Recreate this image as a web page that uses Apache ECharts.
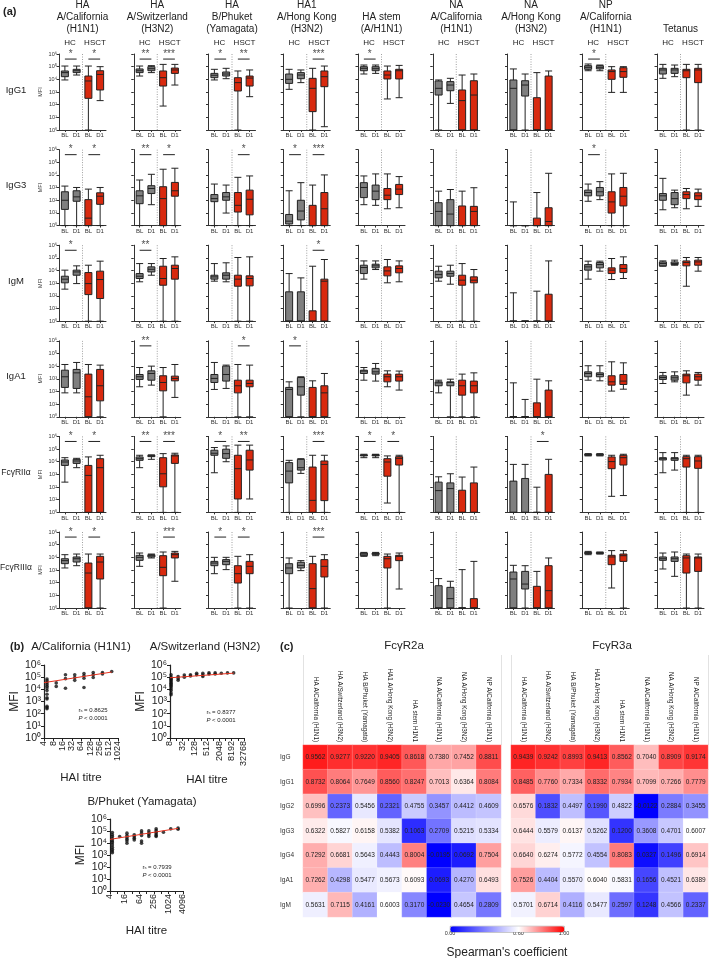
<!DOCTYPE html>
<html><head><meta charset="utf-8">
<script src="https://cdn.jsdelivr.net/npm/echarts@6/dist/echarts.min.js"></script>
<style>html,body{margin:0;padding:0;background:#fff}#c{width:709px;height:958px}</style>
</head><body><div id="c"></div>
<script>
// ---------------- DATA ----------------
// Panel (a): column headers, row labels, x categories
const antigenTitles = [
  ['HA','A/California','(H1N1)'], ['HA','A/Switzerland','(H3N2)'], ['HA','B/Phuket','(Yamagata)'],
  ['HA1','A/Hong Kong','(H3N2)'], ['HA stem','(A/H1N1)'], ['NA','A/California','(H1N1)'],
  ['NA','A/Hong Kong','(H3N2)'], ['NP','A/California','(H1N1)'], ['Tetanus']
];
const rowLabels = ['IgG1','IgG3','IgM','IgA1','FcγRIIα','FcγRIIIα'];
const groupLabels = ['HC','HSCT'];
const timeLabels = ['BL','D1','BL','D1'];
const yTickExp = [0,1,2,3,4,5,6];

// Box values: log10(MFI) as [min, Q1, median, Q3, max]; per antigen: HC BL, HC D1, HSCT BL, HSCT D1
const igg1Boxes = [
 [[3.95,4.21,4.53,4.66,5.05],[4.34,4.53,4.68,4.79,5.05],[0,2.5,3.87,4.26,5.05],[2.32,3.16,4.39,4.68,5.0]],
 [[4.26,4.53,4.68,4.82,5.05],[4.53,4.68,4.84,5.0,5.08],[1.89,3.47,4.13,4.66,5.18],[3.55,4.47,4.74,4.89,5.18]],
 [[3.95,4.13,4.32,4.47,4.79],[4.05,4.26,4.42,4.58,4.87],[0,3.08,3.74,4.13,4.66],[2.63,3.47,4.1,4.26,4.74]],
 [[3.21,3.68,4.0,4.42,4.79],[3.74,4.05,4.34,4.53,4.74],[0,1.45,3.29,4.08,4.87],[0.26,3.42,4.21,4.66,5.05]],
 [[4.42,4.68,4.87,5.0,5.13],[4.47,4.68,4.84,5.0,5.13],[2.45,4.03,4.34,4.66,5.05],[2.55,4.03,4.68,4.79,5.1]],
 [[0,2.76,3.29,3.87,3.95],[2.1,3.1,3.55,3.82,4.08],[0,0,2.32,3.16,4.34],[0,0,2.76,3.89,4.42]],
 [[0,0,3.29,3.95,4.82],[0,2.68,3.55,3.89,4.42],[0,0,0,2.55,4.53],[0,0,0,4.26,4.66]],
 [[4.68,4.79,4.95,5.08,5.21],[4.68,4.82,4.95,5.08,5.13],[2.97,4.0,4.61,4.74,5.0],[2.97,4.16,4.61,4.92,5.0]],
 [[4.08,4.42,4.74,4.87,5.18],[4.21,4.47,4.74,4.87,5.13],[0,4.13,4.68,4.79,5.18],[0,3.74,4.74,4.87,5.18]]
];
const igg3Boxes = [
 [[0,1.28,2.0,2.67,3.12],[0,1.92,2.27,2.75,3.01],[0,0,0.59,2.05,2.88],[0,1.68,2.32,2.59,3.01]],
 [[0,1.73,2.35,2.75,3.6],[1.65,2.53,2.93,3.15,4.05],[0,0,2.13,3.07,4.45],[0,2.32,2.75,3.41,4.53]],
 [[0,1.89,2.13,2.45,3.28],[0.99,2.0,2.27,2.61,3.2],[0,1.07,1.6,2.61,3.81],[0,0.85,2.08,2.8,3.92]],
 [[0,0.13,0.35,0.88,2.75],[0,0.45,1.15,2.0,3.39],[0,0,0,1.6,3.2],[0,0,1.33,2.61,4.0]],
 [[1.65,2.21,3.01,3.39,3.92],[1.6,2.05,2.72,3.2,4.08],[1.33,2.05,2.4,2.93,4.08],[1.41,2.45,2.88,3.25,3.87]],
 [[0,0,1.12,1.81,2.72],[0,0,0.91,2.05,2.85],[0,0,0,1.55,2.72],[0,0,1.12,1.52,2.99]],
 [[0,0,0,0,1.87],[0,0,0,0,0],[0,0,0,0.59,2.61],[0,0,0.32,1.41,4.13]],
 [[1.92,2.35,2.61,2.8,3.28],[2.05,2.35,2.67,3.01,3.47],[0,0.99,1.87,2.67,4.08],[0,1.55,2.32,3.01,4.13]],
 [[1.25,2.0,2.35,2.53,3.73],[1.41,1.65,2.13,2.61,2.8],[1.33,2.13,2.45,2.67,2.93],[1.52,2.05,2.35,2.59,2.88]]
];
const igmBoxes = [
 [[2.53,3.03,3.32,3.55,4.03],[2.97,3.63,3.89,4.03,4.37],[0,2.1,2.97,3.84,4.42],[0,1.79,3.29,3.95,4.74]],
 [[3.11,3.37,3.55,3.76,4.55],[3.63,3.89,4.1,4.29,4.55],[0,2.84,3.37,4.34,4.95],[0,3.32,4.16,4.42,5.08]],
 [[3.16,3.32,3.5,3.63,4.55],[3.11,3.32,3.63,3.82,4.61],[0,2.76,3.32,3.63,5.03],[0,2.79,3.37,3.58,5.08]],
 [[0,0,0,2.32,3.76],[0,0,0,2.32,3.42],[0,0,0,0.82,4.34],[0,0,3.16,3.32,4.87]],
 [[3.32,3.76,4.24,4.42,4.76],[4.08,4.21,4.37,4.5,4.76],[3.03,3.58,3.97,4.29,4.87],[3.11,3.82,4.16,4.37,4.76]],
 [[3.16,3.42,3.68,3.95,4.34],[2.92,3.55,3.76,3.95,4.42],[0,2.84,3.24,3.63,4.55],[0,3.03,3.24,3.5,4.08]],
 [[0,0,0,0,2.24],[0,0,0,0,0],[0,0,0,0,2.37],[0,0,0,2.13,4.76]],
 [[3.32,4.03,4.29,4.47,4.74],[3.95,4.21,4.47,4.63,4.74],[3.29,3.76,4.03,4.21,4.95],[3.37,3.84,4.16,4.47,5.08]],
 [[4.34,4.37,4.55,4.68,4.76],[4.42,4.47,4.55,4.68,4.82],[2.76,4.37,4.63,4.76,5.03],[3.95,4.42,4.68,4.82,5.03]]
];
const iga1Boxes = [
 [[1.89,2.32,3.16,3.68,4.13],[1.89,2.24,3.47,3.74,4.29],[0,0,1.58,3.37,4.13],[0,1.26,2.45,3.74,4.08]],
 [[2.37,2.95,3.16,3.34,3.89],[2.5,2.89,3.42,3.63,4.0],[0,2.05,2.71,3.24,3.89],[1.53,2.84,3.03,3.21,4.13]],
 [[2.16,2.71,3.03,3.34,4.29],[2.24,2.82,3.34,4.0,4.08],[0,1.89,2.45,2.89,4.13],[0,2.37,2.63,2.89,4.08]],
 [[0,0,2.16,2.32,2.76],[0,1.71,2.37,3.1,3.16],[0,0,0,2.32,2.84],[0,0,1.89,2.45,3.42]],
 [[2.89,3.42,3.61,3.68,3.89],[2.82,3.37,3.55,3.82,4.21],[2.37,2.76,3.16,3.37,3.63],[2.11,2.82,3.16,3.37,3.61]],
 [[1.89,2.45,2.68,2.76,2.89],[0,2.45,2.71,2.76,2.97],[0,1.71,2.45,2.89,3.37],[0,1.89,2.45,2.82,3.47]],
 [[0,0,0,0,2.68],[0,0,0,0,1.37],[0,0,0,1.1,2.97],[0,0,0,2.11,2.84]],
 [[2.89,3.16,3.42,3.55,4.03],[2.84,3.16,3.34,3.47,4.03],[2.03,2.5,2.76,3.24,4.34],[2.18,2.55,2.82,3.34,4.26]],
 [[2.63,2.95,3.1,3.24,3.5],[2.76,2.89,3.08,3.24,3.55],[1.71,2.68,3.24,3.37,3.63],[2.5,2.89,3.16,3.37,3.5]]
];
const fcr2aBoxes = [
 [[2.39,3.71,3.98,4.14,4.32],[3.53,3.87,4.06,4.19,4.27],[0,0,2.92,3.71,4.38],[0,0,3.53,4.24,4.51]],
 [[3.53,4.11,4.24,4.38,4.51],[4.19,4.4,4.46,4.51,4.54],[0,2.02,3.05,4.32,4.64],[0,3.87,4.46,4.54,4.67]],
 [[3.13,4.51,4.67,4.91,5.12],[4.0,4.27,4.64,4.99,5.25],[0,1.06,3.45,4.51,5.31],[1.06,3.34,4.14,4.91,5.31]],
 [[0,2.33,3.26,3.93,4.11],[3.08,3.34,3.53,4.19,4.24],[0,0,0.95,3.58,4.51],[0,0.93,3.79,4.06,4.51]],
 [[4.32,4.46,4.51,4.54,4.59],[4.32,4.46,4.51,4.56,4.59],[0.74,2.86,3.98,4.24,4.46],[0,3.74,4.27,4.4,4.51]],
 [[0,0,1.72,2.39,2.81],[0,0,1.88,2.33,3.05],[0,0,0,1.75,2.79],[0,0,0,2.33,3.58]],
 [[0,0,0,2.47,3.79],[0,0,0,2.68,3.79],[0,0,0,0,1.99],[0,0,0,3.0,4.19]],
 [[4.46,4.51,4.54,4.59,4.64],[4.46,4.51,4.54,4.59,4.64],[1.27,3.45,4.01,4.38,4.51],[1.33,3.74,4.32,4.51,4.59]],
 [[3.13,4.14,4.24,4.32,4.72],[3.34,4.11,4.24,4.32,4.72],[0,3.58,4.24,4.4,4.51],[0,3.48,4.06,4.4,4.51]]
];
const fcr3aBoxes = [
 [[3.16,3.5,3.74,3.89,4.21],[3.34,3.63,3.89,4.03,4.26],[0,0,2.76,3.55,4.26],[0,2.29,3.63,4.08,4.26]],
 [[3.29,3.76,4.0,4.16,4.34],[3.95,4.03,4.13,4.21,4.26],[0,2.55,3.21,4.13,4.42],[2.11,3.95,4.21,4.34,4.47]],
 [[2.71,3.34,3.55,3.68,4.0],[3.03,3.42,3.68,3.82,4.0],[0,1.97,2.71,3.34,4.08],[0,2.71,3.29,3.68,4.21]],
 [[0,2.71,3.16,3.5,3.95],[2.95,3.16,3.37,3.61,3.74],[0,0,1.53,3.5,4.08],[0,2.45,3.29,3.82,4.21]],
 [[4.08,4.13,4.26,4.34,4.39],[4.13,4.21,4.29,4.34,4.39],[0,3.16,3.89,4.08,4.26],[1.5,3.74,4.08,4.16,4.34]],
 [[0,0,0,1.76,2.32],[0,0,0.74,1.63,2.11],[0,0,0,0,3.03],[0,0,0,0.74,3.68]],
 [[0,0,2.29,2.84,3.37],[0,1.5,1.89,2.89,3.34],[0,0,0,1.71,2.89],[0,0,1.37,3.34,3.95]],
 [[4.21,4.29,4.34,4.39,4.47],[4.26,4.29,4.34,4.39,4.42],[1.58,3.42,4.03,4.16,4.53],[0,3.68,4.13,4.26,4.53]],
 [[3.08,3.76,3.89,4.03,4.34],[2.5,3.68,3.89,4.03,4.42],[0,2.76,3.95,4.13,4.26],[0,2.89,3.95,4.03,4.26]]
];
// Significance labels per antigen: [HC BL vs D1, HSCT BL vs D1]
const igg1Sig = [['*','*'],['**','***'],['*','**'],['','***'],['*',''],['',''],['',''],['*',''],['','']];
const igg3Sig = [['*','*'],['**','*'],['','*'],['*','***'],['',''],['',''],['',''],['*',''],['','']];
const igmSig  = [['*',''],['**',''],['',''],['','*'],['',''],['',''],['',''],['',''],['','']];
const iga1Sig = [['',''],['**',''],['','*'],['*',''],['',''],['',''],['',''],['',''],['','']];
const fcr2aSig = [['*','*'],['**','***'],['*','**'],['','***'],['*','*'],['',''],['','*'],['',''],['','']];
const fcr3aSig = [['*','*'],['','***'],['*','*'],['','***'],['',''],['',''],['',''],['',''],['','']];

// Panel (b): HAI titre vs MFI (MFI as log10)
const calHai = [5,5,5,5,5,5,5,5,5,5,5,5,5,10,10,20,20,20,40,40,40,80,80,80,80,160,160,160,320,320,640];
const calMfiLog = [4.85,4.7,4.55,4.4,4.25,4.1,3.9,3.6,3.3,3.2,2.6,2.5,2.4,4.53,4.24,5.2,4.88,4.09,5.2,4.97,4.74,5.3,5.12,4.91,4.15,5.38,5.2,4.97,5.38,5.26,5.47];
const calFitHai = [4,640], calFitMfiLog = [4.55,5.42];
const swiHai = [9,9,9,9,9,9,9,9,9,9,9,9,9,9,20,20,20,40,40,80,80,160,160,320,320,320,640,640,1280,1280,2560,5120,10240];
const swiMfiLog = [5.2,5.0,4.9,4.8,4.7,4.6,4.5,4.4,4.3,4.2,4.05,3.9,3.7,3.55,5.06,4.9,4.75,5.17,5.0,5.2,5.1,5.32,5.2,5.32,5.17,5.06,5.35,5.26,5.35,5.26,5.32,5.35,5.35];
const swiFitHai = [8,10240], swiFitMfiLog = [4.95,5.33];
const phuHai = [5,5,5,5,5,5,5,5,5,5,5,10,20,20,20,20,20,20,40,40,40,40,80,80,80,80,80,160,160,160,160,320,320,320,320,320,320,640,1280,2560,2560];
const phuMfiLog = [4.87,4.68,4.54,4.34,4.17,4.03,3.84,3.64,3.47,3.33,3.19,4.54,4.82,4.62,4.45,4.31,4.17,3.98,4.68,4.54,4.4,4.26,5.01,4.82,4.62,4.17,3.98,5.01,4.82,4.68,4.54,5.18,5.04,4.9,4.76,4.62,4.54,4.9,5.18,5.24,5.15];
const phuFitHai = [4,2560], phuFitMfiLog = [4.3,5.22];
const scatterTitles = ['A/California (H1N1)','A/Switzerland (H3N2)','B/Phuket (Yamagata)'];
const scatterRs = ['0.8625','0.8377','0.7939'];

// Panel (c): Spearman correlations
const heatAntigens = ['HA A/California (H1N1)','HA A/Switzerland (H3N2)','HA B/Phuket (Yamagata)','HA1 A/Hong Kong (H3N2)','HA stem H1N1','NA A/California (H1N1)','NA A/Hong Kong (H3N2)','NP A/California (H1N1)'];
const heatIsotypes = ['IgG','IgG1','IgG2','IgG3','IgG4','IgA1','IgM'];
const fcr2aCorr = [
 [0.9562,0.9277,0.9220,0.9405,0.8618,0.7380,0.7452,0.8811],
 [0.8732,0.8064,0.7649,0.8560,0.8247,0.7013,0.6364,0.8084],
 [0.6996,0.2373,0.5456,0.2321,0.4755,0.3457,0.4412,0.4609],
 [0.6322,0.5827,0.6158,0.5382,0.1063,0.2709,0.5215,0.5334],
 [0.7292,0.6681,0.5643,0.4443,0.8004,-0.0195,0.0692,0.7504],
 [0.7262,0.4298,0.5477,0.5673,0.6093,0.0693,0.4270,0.6493],
 [0.5631,0.7115,0.4161,0.6003,0.3170,-0.0230,0.4654,0.2809]
];
const fcr3aCorr = [
 [0.9439,0.9242,0.8993,0.9413,0.8562,0.7040,0.8909,0.9174],
 [0.8485,0.7760,0.7334,0.8332,0.7934,0.7099,0.7266,0.7779],
 [0.6576,0.1832,0.4497,0.1990,0.4822,-0.0122,0.2884,0.3455],
 [0.6444,0.5579,0.6137,0.5262,0.1200,0.3608,0.4701,0.6007],
 [0.6640,0.6274,0.5772,0.4554,0.8083,0.0327,0.1496,0.6914],
 [0.7526,0.4404,0.5570,0.6040,0.5831,0.1656,0.4521,0.6389],
 [0.5701,0.6714,0.4116,0.5477,0.2597,0.1248,0.4566,0.2337]
];
const heatTitles = ['FcγR2a','FcγR3a'];
const colorbarTicks = [0, 0.6, 1.0];

// ---------------- BUILD ----------------
const FONT = '"Liberation Sans", Arial, Helvetica, sans-serif';
const SUP = ['⁰','¹','²','³','⁴','⁵','⁶'];
const GRAY = '#7f7f7f', RED = '#d8290e', AX = '#333';
const option = {animation:false, textStyle:{fontFamily:FONT}, grid:[], xAxis:[], yAxis:[], series:[], graphic:[]};
function addText(x, y, text, size, extra) {
  option.graphic.push({type:'text', x:x, y:y, silent:true,
    style:Object.assign({text:text, fontSize:size, fontFamily:FONT, fill:'#222', align:'center', verticalAlign:'middle'}, extra||{})});
}
const boxRows = [igg1Boxes, igg3Boxes, igmBoxes, iga1Boxes, fcr2aBoxes, fcr3aBoxes];
const sigRows = [igg1Sig, igg3Sig, igmSig, iga1Sig, fcr2aSig, fcr3aSig];
const colLeft = c => 59 + 74.75 * c;
const rowTop = r => 54 + 95.6 * r;
const PW = 47, PH = 76;
const boxCats = timeLabels.map((t, i) => (i < 2 ? 'h' : 's') + t);

addText(3, 12, '(a)', 11, {align:'left', fontWeight:'bold'});
antigenTitles.forEach((lines, c) => {
  const cx = colLeft(c) + PW / 2;
  lines.forEach((ln, k) => addText(cx, 29 - 12 * (lines.length - 1 - k), ln, 10));
  addText(colLeft(c) + 11, 43, groupLabels[0], 8);
  addText(colLeft(c) + 36, 43, groupLabels[1], 8);
});
rowLabels.forEach((lab, r) => addText(16, rowTop(r) + PH / 2 - 2, lab, lab.length > 4 ? 8.5 : 9.5));

boxRows.forEach((rowData, r) => {
  rowData.forEach((boxes, c) => {
    const g = option.grid.length;
    option.grid.push({left: colLeft(c), top: rowTop(r), width: PW, height: PH});
    const xa = option.xAxis.length;
    option.xAxis.push({gridIndex:g, type:'category', data:boxCats,
      axisLine:{lineStyle:{color:AX, width:1}}, axisTick:{show:true, alignWithLabel:true, length:2, lineStyle:{color:AX}},
      axisLabel:{interval:0, fontSize:6, margin:2.5, color:'#333', formatter: v => v.slice(1)}, splitLine:{show:false}});
    const xb = option.xAxis.length;
    option.xAxis.push({gridIndex:g, type:'value', min:0, max:4, show:false});
    const ya = option.yAxis.length;
    option.yAxis.push({gridIndex:g, type:'value', min:0, max:6, interval:1,
      axisLine:{show:true, lineStyle:{color:AX, width:1}}, axisTick:{show:true, length:2.5, lineStyle:{color:AX}},
      axisLabel:{show:c === 0, fontSize:5.5, margin:2, color:'#333', formatter: v => '10' + SUP[yTickExp.indexOf(v)]},
      splitLine:{show:false}, name: c === 0 ? 'MFI' : '', nameLocation:'middle', nameGap:16,
      nameTextStyle:{fontSize:5.5, color:'#333'}});
    option.series.push({type:'boxplot', xAxisIndex:xa, yAxisIndex:ya, silent:true, boxWidth:[7,7],
      itemStyle:{borderColor:'#222', borderWidth:1},
      data: boxes.map((b, k) => ({value:b, itemStyle:{color: k < 2 ? GRAY : RED}}))});
    option.series.push({type:'line', xAxisIndex:xb, yAxisIndex:ya, silent:true, symbol:'none',
      lineStyle:{color:'#888', width:0.8, type:[1,1.5]}, data:[[2,0],[2,6]]});
    sigRows[r][c].forEach((s, k) => {
      if (!s) return;
      option.series.push({type:'line', xAxisIndex:xb, yAxisIndex:ya, silent:true, symbol:'none',
        lineStyle:{color:'#222', width:1}, data:[[0.5 + 2 * k, 5.6],[1.5 + 2 * k, 5.6]]});
      option.series.push({type:'scatter', xAxisIndex:xb, yAxisIndex:ya, silent:true, symbolSize:0,
        label:{show:true, position:'top', distance:0, formatter:'{b}', fontSize:10, color:'#222'},
        data:[{name:s, value:[1 + 2 * k, 5.6]}]});
    });
  });
});

// Panel (b)
addText(10, 647, '(b)', 11, {align:'left', fontWeight:'bold'});
const scatterSpecs = [
  {hai:calHai, mfi:calMfiLog, fh:calFitHai, fm:calFitMfiLog, left:44, top:665, w:74, h:73, xmin:2, xmax:10, show:e => true, tx:81, ty:647, sx:93, sy:710},
  {hai:swiHai, mfi:swiMfiLog, fh:swiFitHai, fm:swiFitMfiLog, left:170, top:665, w:74, h:73, xmin:3, xmax:15, show:e => e % 2 === 1, tx:205, ty:647, sx:221, sy:712},
  {hai:phuHai, mfi:phuMfiLog, fh:phuFitHai, fm:phuFitMfiLog, left:110, top:819, w:73, h:72, xmin:2, xmax:12, show:e => e % 2 === 0, tx:142, ty:802, sx:157, sy:867}
];
scatterSpecs.forEach((sp, i) => {
  const g = option.grid.length;
  option.grid.push({left:sp.left, top:sp.top, width:sp.w, height:sp.h});
  const xa = option.xAxis.length;
  option.xAxis.push({gridIndex:g, type:'value', min:sp.xmin, max:sp.xmax, interval:1,
    axisLine:{lineStyle:{color:'#222', width:1.2}}, axisTick:{length:3, lineStyle:{color:'#222'}},
    axisLabel:{rotate:90, fontSize:9, lineHeight:7, margin:3, color:'#222', showMinLabel:true, showMaxLabel:true, hideOverlap:false,
      formatter: v => sp.show(Math.round(v)) ? String(Math.pow(2, Math.round(v))) : ''},
    splitLine:{show:false}, name:'HAI titre', nameLocation:'middle', nameGap: i === 1 ? 36 : 34,
    nameTextStyle:{fontSize:11.5, color:'#222'}});
  const ya = option.yAxis.length;
  option.yAxis.push({gridIndex:g, type:'value', min:0, max:6, interval:1,
    axisLine:{show:true, lineStyle:{color:'#222', width:1.2}}, axisTick:{show:true, length:3, lineStyle:{color:'#222'}},
    axisLabel:{fontSize:10.5, margin:3, color:'#222', showMinLabel:true, showMaxLabel:true, formatter: v => '10' + SUP[yTickExp.indexOf(v)]},
    splitLine:{show:false}, name:'MFI', nameLocation:'middle', nameGap:23, nameTextStyle:{fontSize:12, color:'#222'}});
  option.series.push({type:'scatter', xAxisIndex:xa, yAxisIndex:ya, silent:true, symbolSize:3.6,
    itemStyle:{color:'#111'}, data: sp.hai.map((h, k) => [Math.log2(h), sp.mfi[k]])});
  option.series.push({type:'line', xAxisIndex:xa, yAxisIndex:ya, silent:true, symbol:'none',
    lineStyle:{color:'#e8321e', width:1}, data: sp.fh.map((h, k) => [Math.log2(h), sp.fm[k]])});
  addText(sp.tx, sp.ty, scatterTitles[i], 11.5);
  addText(sp.sx, sp.sy, 'r{s|s} = ' + scatterRs[i], 6, {rich:{s:{fontSize:4, verticalAlign:'bottom'}}});
  addText(sp.sx, sp.sy + 8, '{i|P} < 0.0001', 6, {rich:{i:{fontSize:6, fontStyle:'italic'}}});
});

// Panel (c)
addText(280, 647, '(c)', 11, {align:'left', fontWeight:'bold'});
const heatSeriesIdx = [];
[fcr2aCorr, fcr3aCorr].forEach((mat, h) => {
  const left = h === 0 ? 303 : 511, width = h === 0 ? 198 : 197;
  // header column separators
  const gh = option.grid.length;
  option.grid.push({left:left, top:655, width:width, height:90});
  option.xAxis.push({gridIndex:gh, type:'category', data:heatAntigens, axisLine:{show:false}, axisTick:{show:false},
    axisLabel:{show:false}, splitLine:{show:true, lineStyle:{color:'#e2e2e2', width:1}}});
  option.yAxis.push({gridIndex:gh, type:'value', show:false});
  const g = option.grid.length;
  option.grid.push({left:left, top:745, width:width, height:172});
  const xa = option.xAxis.length;
  option.xAxis.push({gridIndex:g, type:'category', position:'top', data:heatAntigens,
    axisLine:{show:false}, axisTick:{show:false},
    axisLabel:{interval:0, rotate:90, fontSize:6.3, margin:3, color:'#222'}, splitLine:{show:false}});
  const ya = option.yAxis.length;
  option.yAxis.push({gridIndex:g, type:'category', inverse:true, data:heatIsotypes,
    axisLine:{show:false}, axisTick:{show:false},
    axisLabel:{show:h === 0, interval:0, fontSize:6.5, align:'left', margin:23, color:'#333'}, splitLine:{show:false}});
  const data = [];
  mat.forEach((row, r) => row.forEach((v, c) => data.push([c, r, v])));
  heatSeriesIdx.push(option.series.length);
  option.series.push({type:'heatmap', xAxisIndex:xa, yAxisIndex:ya, silent:true, data:data,
    itemStyle:{borderColor:'rgba(255,255,255,0.35)', borderWidth:0.5},
    label:{show:true, fontSize:6.5, color:'#222', formatter: p => p.value[2].toFixed(4)}});
  addText(left + 101, 646, heatTitles[h], 11.5);
});
// colorbar axis
const gc = option.grid.length;
option.grid.push({left:450, top:926, width:114, height:6});
option.xAxis.push({gridIndex:gc, type:'value', min:0, max:1, interval:0.2,
  axisLine:{show:false}, axisTick:{show:false}, splitLine:{show:false},
  axisLabel:{fontSize:5.5, margin:3, color:'#333', showMinLabel:true, showMaxLabel:true,
    formatter: v => colorbarTicks.some(t => Math.abs(t - v) < 1e-6) ? v.toFixed(2) : ''},
  name:"Spearman's coefficient", nameLocation:'middle', nameGap:19, nameTextStyle:{fontSize:12, color:'#222'}});
option.yAxis.push({gridIndex:gc, type:'value', show:false});
option.series.push({type:'scatter', xAxisIndex:option.xAxis.length - 1, yAxisIndex:option.yAxis.length - 1, data:[]});

option.visualMap = {type:'continuous', seriesIndex:heatSeriesIdx, min:0, max:1, orient:'horizontal',
  left:450, top:926, itemWidth:6, itemHeight:114, calculable:false, text:null, padding:0,
  borderColor:'#666', borderWidth:0.5,
  inRange:{color:['#0000ff','#5555ff','#aaaaff','#ffffff','#ff8080','#ff0000']}};

const chart = echarts.init(document.getElementById('c'), null, {renderer:'canvas'});
chart.setOption(option);
</script></body></html>
